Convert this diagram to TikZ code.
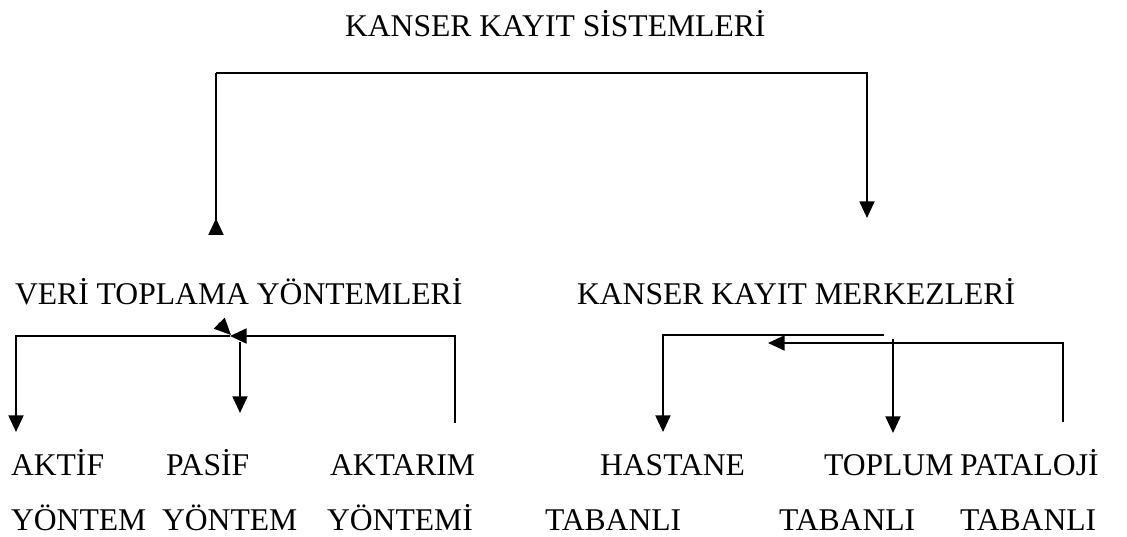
\documentclass[tikz,border=0pt]{standalone}
\usepackage{fontspec}
\setmainfont{Liberation Serif}
\usetikzlibrary{arrows.meta}

\begin{document}
\begin{tikzpicture}[
    x=0.02cm, y=-0.02cm,
    font=\fontsize{18}{22}\selectfont,
    line width=1.3pt,
    >={Triangle[length=9.5pt, width=8.5pt]},
    word/.style={anchor=base west, inner sep=0pt, outer sep=0pt},
    arrow/.style={->},
    revarrow/.style={-{Triangle[length=9.5pt, width=8.5pt, reversed]}}
]
    \useasboundingbox (0,0) rectangle (1127,537);
    % heading
    \node[word] (title) at (345,37) {KANSER KAYIT SİSTEMLERİ};
    % second level
    \node[word] (veri) at (15,304) {VERİ TOPLAMA YÖNTEMLERİ};
    \node[word] (merkez) at (577,304) {KANSER KAYIT MERKEZLERİ};
    % methods
    \node[word] (aktif) at (11,475) {AKTİF};
    \node[word] (pasif) at (166,475) {PASİF};
    \node[word] (aktarim) at (330,475) {AKTARIM};
    \node[word] (yontemA) at (11,530) {YÖNTEM};
    \node[word] (yontemP) at (162,530) {YÖNTEM};
    \node[word] (yontemK) at (327,530) {YÖNTEMİ};
    % centres
    \node[word] (hastane) at (600,475) {HASTANE};
    \node[word] (toplum) at (824,475) {TOPLUM};
    \node[word] (pataloji) at (960,475) {PATALOJİ};
    \node[word] (tabanH) at (545,530) {TABANLI};
    \node[word] (tabanT) at (779,530) {TABANLI};
    \node[word] (tabanP) at (960,530) {TABANLI};

    % corner points of the connectors
    \coordinate (topL) at (216,73);
    \coordinate (topR) at (867,73);
    \coordinate (veriTip) at (216,235);
    \coordinate (merkezTip) at (867,218);

    \coordinate (aktarimEnd) at (455,423);
    \coordinate (aktarimTop) at (455,336);
    \coordinate (veriJoin) at (230,336);
    \coordinate (aktifTop) at (16,336);
    \coordinate (aktifTip) at (16,432);
    \coordinate (pasifTop) at (240,342);
    \coordinate (pasifTip) at (240,413);
    \coordinate (smallStart) at (219,323);
    \coordinate (smallTip) at (231,335);

    \coordinate (upperR) at (884,335);
    \coordinate (hastaneTop) at (663,335);
    \coordinate (hastaneTip) at (663,432);
    \coordinate (patalojiEnd) at (1063,422);
    \coordinate (patalojiTop) at (1063,343);
    \coordinate (merkezJoin) at (768,343);
    \coordinate (toplumTop) at (893,339);
    \coordinate (toplumTip) at (893,433);

    % top level
    \draw[arrow] (topL) -- (topR) -- (merkezTip);
    \draw[revarrow] (topL) -- (veriTip);

    % data collection methods
    \draw[arrow] (aktarimEnd) -- (aktarimTop) -- (veriJoin);
    \draw[arrow] (veriJoin) -- (aktifTop) -- (aktifTip);
    \draw[arrow] (pasifTop) -- (pasifTip);
    \draw[arrow] (smallStart) -- (smallTip);

    % registry centres
    \draw[arrow] (upperR) -- (hastaneTop) -- (hastaneTip);
    \draw[arrow] (patalojiEnd) -- (patalojiTop) -- (merkezJoin);
    \draw[arrow] (toplumTop) -- (toplumTip);
\end{tikzpicture}
\end{document}
